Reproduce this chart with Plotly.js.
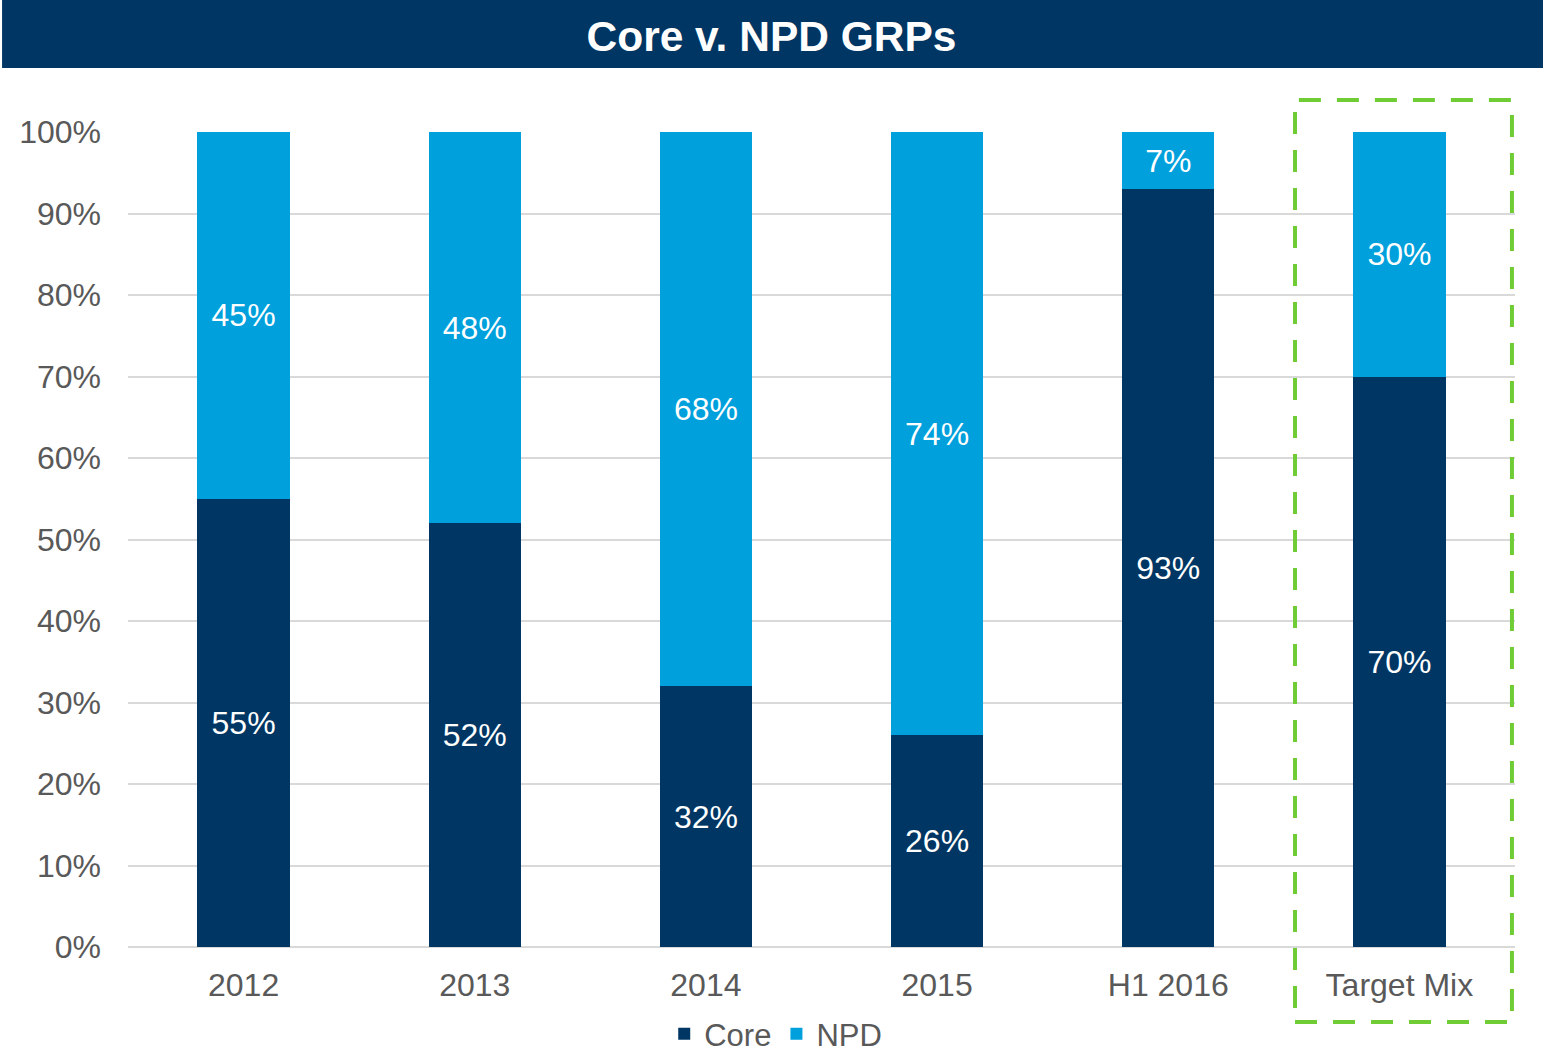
<!DOCTYPE html>
<html>
<head>
<meta charset="utf-8">
<script src="https://cdn.plot.ly/plotly-3.0.1.min.js"></script>
<style>
  html, body { margin: 0; padding: 0; background: #fff; }
  #chart { width: 1543px; height: 1061px; }
</style>
</head>
<body>
<div id="chart"></div>
<script>
// Core vs NPD share of GRPs, per period
const periods  = ['2012', '2013', '2014', '2015', 'H1 2016', 'Target Mix'];
const coreData = [55, 52, 32, 26, 93, 70];
const npdData  = [45, 48, 68, 74, 7, 30];

const NAVY = '#003663';
const BLUE = '#00A0DC';

const labelFont = { family: 'Arial, Liberation Sans, sans-serif', size: 32, color: '#FFFFFF' };

const traces = [
  {
    name: 'Core',
    x: periods, y: coreData,
    type: 'bar',
    width: 0.4,
    marker: { color: NAVY },
    texttemplate: '%{y}',
    textposition: 'inside',
    insidetextanchor: 'middle',
    insidetextfont: labelFont,
    hoverinfo: 'skip',
  },
  {
    name: 'NPD',
    x: periods, y: npdData,
    type: 'bar',
    width: 0.4,
    marker: { color: BLUE },
    texttemplate: '%{y}',
    textposition: 'inside',
    insidetextanchor: 'middle',
    insidetextfont: labelFont,
    hoverinfo: 'skip',
  },
];

const layout = {
  width: 1543,
  height: 1061,
  barmode: 'stack',
  margin: { t: 132, r: 28, b: 114, l: 128, autoexpand: false },
  paper_bgcolor: '#FFFFFF',
  plot_bgcolor: '#FFFFFF',
  font: { family: 'Arial, Liberation Sans, sans-serif', size: 32, color: '#595959' },
  title: {
    text: '<b>Core v. NPD GRPs</b>',
    font: { size: 42.5, color: '#FFFFFF' },
    x: 0.5, xanchor: 'center',
    y: 0.966, yanchor: 'middle',
  },
  showlegend: true,
  legend: {
    orientation: 'h',
    x: 0.467, xanchor: 'center',
    yref: 'container',
    y: 0.0, yanchor: 'bottom',
    font: { size: 31, color: '#595959' },
    itemwidth: 30,
    traceorder: 'normal',
  },
  xaxis: {
    type: 'category',
    showgrid: false,
    showline: false,
    ticks: '',
    ticklabelstandoff: 16,
    tickfont: { size: 32 },
    automargin: false,
  },
  yaxis: {
    range: [0, 100],
    dtick: 10,
    ticksuffix: '%',
    gridcolor: '#D9D9D9',
    gridwidth: 2,
    zeroline: true,
    zerolinecolor: '#D9D9D9',
    zerolinewidth: 2,
    ticks: '',
    ticklabelstandoff: 26,
    tickfont: { size: 32 },
    automargin: false,
  },
  shapes: [
    {
      // title banner
      type: 'rect', xref: 'paper', yref: 'paper',
      x0: -0.0908, x1: 1.0202, y0: 1.0785, y1: 1.162,
      fillcolor: NAVY, line: { width: 0 }, layer: 'below',
    },
    {
      // target mix highlight
      type: 'rect', xref: 'paper', yref: 'paper',
      x0: 0.8414, x1: 0.9978, y0: -0.092, y1: 1.0393,
      line: { color: '#70CC35', width: 4, dash: '22px,16px' },
    },
  ],
};

Plotly.newPlot('chart', traces, layout, { displayModeBar: false, staticPlot: true });
</script>
</body>
</html>
